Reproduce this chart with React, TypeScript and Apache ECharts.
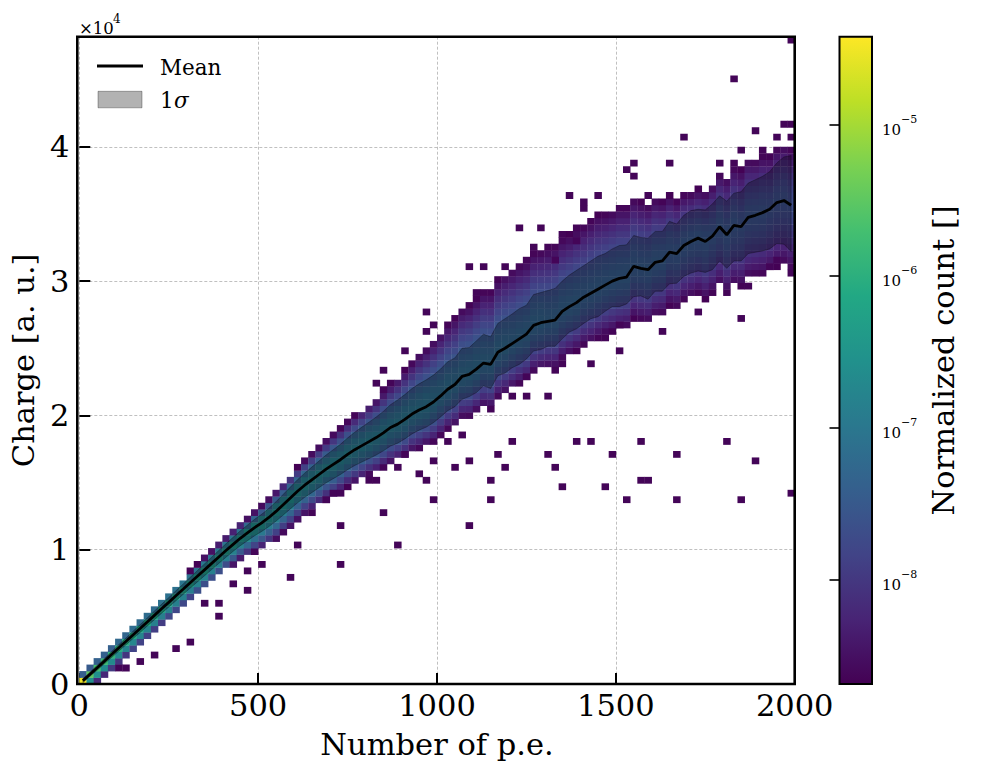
import React, { useEffect, useRef } from "react";
import * as echarts from "echarts";

const FONT = "'DejaVu Serif', serif";
const X_BIN = 20;
const N_X = 100;
const N_Y = 100;
const Y_MAX = 48200;
const Y_BIN = 482;
const LOG_MIN = -8.69;
const LOG_MAX = -4.4225;

const X_TICK_STEP = 500;
const Y_TICK_STEP = 10000;
const CBAR_DECADES = [-8, -7, -6, -5];

// mean charge per 20 p.e. column (column centres 10, 30, ..., 1990)
const MEAN = [
  250, 730, 1210, 1700, 2190, 2680, 3160, 3650, 4130, 4620,
  5110, 5600, 6080, 6570, 7050, 7540, 8020, 8500, 8980, 9460,
  9940, 10400, 10850, 11250, 11650, 12000, 12400, 12850, 13350, 13850,
  14350, 14800, 15200, 15600, 16000, 16350, 16700, 17100, 17450, 17750,
  18050, 18350, 18700, 19100, 19350, 19700, 20100, 20400, 20650, 21000,
  21450, 21950, 22300, 22900, 23050, 23450, 23900, 23800, 24700, 25000,
  25350, 25700, 26050, 26700, 26900, 27000, 27100, 27750, 28100, 28400,
  28800, 29100, 29400, 29700, 30000, 30200, 30300, 31100, 30950, 30850,
  31400, 31500, 32150, 32050, 32650, 32950, 33200, 32950, 33350, 34050,
  33450, 34150, 34050, 34750, 34900, 35100, 35350, 35850, 36000, 35650,
];

// 1 sigma band: distance above / below the mean
const BAND_UP = [
  150, 160, 180, 200, 220, 240, 250, 270, 290, 300,
  320, 330, 350, 370, 380, 400, 420, 440, 460, 480,
  500, 520, 550, 580, 610, 640, 680, 720, 770, 810,
  860, 900, 950, 1000, 1050, 1100, 1150, 1220, 1300, 1380,
  1450, 1530, 1600, 1700, 1800, 1850, 1900, 1950, 2000, 2000,
  2000, 2050, 1980, 2100, 2000, 2100, 2150, 2050, 2150, 2200,
  2200, 2250, 2150, 2300, 2250, 2300, 2350, 2250, 2350, 2400,
  2350, 2400, 2450, 2350, 2400, 2450, 2400, 2300, 2300, 2350,
  2300, 2200, 2300, 2200, 2250, 2300, 2150, 2350, 2400, 2300,
  2500, 2400, 2600, 2550, 2650, 2700, 2800, 2950, 3250, 3700,
];
const BAND_DN = [
  150, 160, 180, 200, 220, 240, 250, 270, 290, 300,
  320, 330, 350, 370, 380, 400, 420, 440, 460, 480,
  500, 520, 550, 580, 610, 640, 680, 720, 770, 810,
  860, 900, 950, 980, 1020, 1060, 1100, 1140, 1180, 1220,
  1260, 1300, 1340, 1380, 1420, 1450, 1480, 1500, 1520, 1540,
  1560, 1600, 1650, 1700, 1650, 1750, 1700, 1800, 1750, 1850,
  1800, 1900, 1850, 1900, 2000, 1850, 1950, 2050, 1900, 1950,
  1950, 1900, 2050, 1950, 1900, 2100, 2000, 2250, 2050, 2200,
  2150, 2250, 2350, 2200, 2300, 2350, 2450, 2300, 2500, 2550,
  2500, 2650, 2550, 2700, 2750, 2850, 2950, 3050, 3250, 3450,
];

// extent of the filled histogram region above / below the mean
const ENV_UP = [
  600, 650, 700, 700, 700, 750, 750, 800, 800, 800,
  800, 850, 850, 850, 900, 900, 900, 950, 950, 1000,
  1000, 1050, 1100, 1100, 1200, 1300, 1400, 1500, 1600, 1700,
  1800, 1900, 2000, 2100, 2200, 2300, 2400, 2500, 2600, 2700,
  2800, 2900, 3100, 3300, 3500, 3700, 3900, 4200, 4400, 4600,
  4800, 4900, 5000, 5100, 5200, 5300, 5400, 5500, 5500, 5600,
  5600, 5600, 5500, 5500, 5400, 5500, 5600, 5500, 5400, 5500,
  5400, 5500, 5600, 5400, 5300, 5400, 5300, 5100, 5000, 4900,
  4800, 4500, 4300, 4000, 3900, 3700, 3700, 3800, 3900, 4000,
  4300, 4400, 4300, 4400, 4200, 4300, 4000, 4100, 4200, 4300,
];
const ENV_DN = [
  900, 1000, 1100, 1100, 1200, 1200, 1200, 1300, 1300, 1300,
  1300, 1300, 1400, 1400, 1400, 1400, 1500, 1500, 1500, 1500,
  1500, 1600, 1600, 1700, 1800, 1900, 2000, 2100, 2100, 2200,
  2200, 2200, 2300, 2300, 2300, 2400, 2400, 2400, 2500, 2500,
  2500, 2600, 2600, 2700, 2700, 2800, 2800, 2900, 2900, 3000,
  3000, 3000, 3100, 3100, 3200, 3200, 3300, 3300, 3400, 3400,
  3400, 3400, 3500, 3500, 3500, 3500, 3600, 3600, 3600, 3600,
  3600, 3700, 3700, 3700, 3800, 3800, 3800, 3900, 3900, 3900,
  4000, 4000, 4000, 4100, 4100, 4200, 4200, 4300, 4300, 4400,
  4400, 4500, 4500, 4600, 4600, 4700, 4700, 4800, 4800, 4900,
];

// log10 of the normalized count at the core of each column
const PEAK = [
  -4.5, -5.5, -5.7, -5.8, -5.9, -6.0, -6.05, -6.1, -6.15, -6.15,
  -6.2, -6.2, -6.25, -6.25, -6.25, -6.3, -6.3, -6.3, -6.35, -6.35,
  -6.4, -6.4, -6.45, -6.45, -6.5, -6.5, -6.55, -6.55, -6.6, -6.6,
  -6.7, -6.7, -6.75, -6.75, -6.8, -6.8, -6.85, -6.85, -6.9, -6.9,
  -6.9, -6.95, -6.95, -7.0, -7.0, -7.0, -7.05, -7.05, -7.05, -7.1,
  -7.15, -7.15, -7.2, -7.2, -7.2, -7.2, -7.25, -7.25, -7.25, -7.25,
  -7.3, -7.3, -7.3, -7.3, -7.3, -7.35, -7.35, -7.35, -7.35, -7.35,
  -7.4, -7.4, -7.4, -7.4, -7.4, -7.4, -7.4, -7.45, -7.45, -7.45,
  -7.45, -7.45, -7.5, -7.5, -7.5, -7.5, -7.5, -7.5, -7.55, -7.55,
  -7.55, -7.55, -7.6, -7.6, -7.6, -7.6, -7.65, -7.65, -7.65, -7.7,
];

// isolated single-count cells [x bin, y bin]
const OUTLIERS = [
  [25, 18], [23, 17], [21, 15], [23, 14], [17, 12], [19, 12], [19, 10], [15, 6], [13, 5], [10, 4],
  [8, 3], [6, 2], [5, 2], [30, 21], [29, 16],
  [48, 57], [49, 55], [48, 54], [45, 51], [42, 48], [41, 46], [43, 46], [42, 45], [57, 42], [53, 38],
  [51, 37], [60, 37], [58, 35], [65, 35], [45, 35], [49, 34], [54, 34], [44, 33], [52, 33], [59, 33],
  [47, 32], [40, 31], [41, 31], [48, 31], [57, 31], [35, 29], [36, 29], [34, 28], [49, 28], [57, 28],
  [42, 26], [32, 26], [36, 24], [54, 24], [44, 21], [36, 18],
  [84, 84], [77, 80], [76, 79], [77, 78], [82, 80], [68, 75], [72, 75], [70, 74], [70, 73], [79, 75],
  [61, 70], [64, 70], [67, 69], [69, 70], [63, 67], [65, 67], [62, 65], [69, 68],
  [86, 57], [81, 54], [92, 56], [93, 61], [99, 63], [96, 64], [75, 51], [75, 55], [71, 49], [66, 48], [62, 47],
  [99, 99], [91, 93], [94, 85], [98, 86], [99, 86], [99, 84], [97, 84], [92, 82], [95, 82], [89, 80], [91, 80], [97, 65],
  [54, 64], [56, 64], [59, 64], [66, 65], [55, 60], [67, 49], [73, 53], [65, 44], [62, 44], [60, 44],
  [69, 37], [74, 35], [66, 33], [67, 30],
  [76, 28], [78, 31], [78, 37], [79, 31], [83, 35], [83, 28], [90, 37], [92, 28], [94, 34], [99, 29], [73, 30], [71, 37],
];

const VIRIDIS = [
  "#440154", "#482475", "#414487", "#355f8d", "#2a788e", "#21918c",
  "#22a884", "#44bf70", "#7ad151", "#bddf26", "#fde725",
];

function buildCells(): number[][] {
  const cells: number[][] = [];
  for (let i = 0; i < N_X; i++) {
    for (let j = 0; j < N_Y; j++) {
      const c = (j + 0.5) * Y_BIN;
      const d = c - MEAN[i];
      const e = d >= 0 ? ENV_UP[i] : ENV_DN[i];
      if (Math.abs(d) > e) continue;
      const f = 1 - Math.pow(Math.abs(d) / e, 1.5);
      cells.push([i * X_BIN, j * Y_BIN, LOG_MIN + (PEAK[i] - LOG_MIN) * f]);
    }
  }
  for (const [xb, yb] of OUTLIERS) cells.push([xb * X_BIN, yb * Y_BIN, LOG_MIN + 0.05]);
  return cells;
}

const CBAR_MINOR: number[] = [];
for (let n = -9; n <= -5; n++) {
  for (let k = 2; k <= 9; k++) {
    const v = n + Math.log10(k);
    if (v > LOG_MIN && v < LOG_MAX) CBAR_MINOR.push(v);
  }
}

const G = { left: 77.3, top: 36.7, width: 717.4, height: 647.3 };
const CB = { left: 839.5, top: 36.7, width: 32.5, height: 647.3 };

export default function App() {
  const ref = useRef<HTMLDivElement>(null);
  useEffect(() => {
    if (!ref.current) return;
    const chart = echarts.init(ref.current, undefined, { renderer: "svg" });
    const cells = buildCells();
    const centres = MEAN.map((_, i) => i * X_BIN + X_BIN / 2);
    const titleStyle = { color: "#000", fontFamily: FONT, fontSize: 30.5 };

    const option: any = {
      animation: false,
      grid: [
        { ...G, containLabel: false },
        { ...CB, containLabel: false },
      ],
      xAxis: [
        {
          type: "value", gridIndex: 0, min: 0, max: N_X * X_BIN, interval: X_TICK_STEP,
          axisLine: { show: false },
          axisTick: { inside: true, length: 11, lineStyle: { color: "#000", width: 2 } },
          axisLabel: {
            color: "#000", fontFamily: FONT, fontSize: 30.5, margin: 6,
            formatter: (v: number) => String(v),
          },
          splitLine: { show: true, lineStyle: { color: "#b0b0b0", width: 0.8, type: [3, 2] } },
          name: "Number of p.e.", nameLocation: "middle", nameGap: 45, nameTextStyle: titleStyle,
        },
        { type: "value", gridIndex: 1, min: 0, max: 1, show: false },
      ],
      yAxis: [
        {
          type: "value", gridIndex: 0, min: 0, max: Y_MAX, interval: Y_TICK_STEP,
          axisLine: { show: false },
          axisTick: { inside: true, length: 11, lineStyle: { color: "#000", width: 2 } },
          axisLabel: {
            color: "#000", fontFamily: FONT, fontSize: 30.5, margin: 10, showMaxLabel: false,
            formatter: (v: number) => (v % Y_TICK_STEP === 0 ? String(v / Y_TICK_STEP) : ""),
          },
          splitLine: { show: true, lineStyle: { color: "#b0b0b0", width: 0.8, type: [3, 2] } },
          name: "Charge [a. u.]", nameLocation: "middle", nameGap: 40, nameTextStyle: titleStyle,
        },
        {
          type: "value", gridIndex: 1, min: LOG_MIN, max: LOG_MAX, position: "right",
          axisLine: { show: false },
          axisTick: { inside: true, length: 10, customValues: CBAR_DECADES, lineStyle: { color: "#000", width: 1.6 } },
          axisLabel: {
            customValues: CBAR_DECADES, margin: 10, color: "#000", fontFamily: FONT, fontSize: 15,
            formatter: (v: number) => `{b|10}{s|\u2212${Math.round(-v)}}`,
            rich: {
              b: { fontFamily: FONT, fontSize: 15, color: "#000", padding: [11, 0, 0, 0] },
              s: { fontFamily: FONT, fontSize: 11, color: "#000", padding: [0, 0, 10, 0] },
            },
          },
          splitLine: { show: false },
          name: "Normalized count []", nameLocation: "middle", nameGap: 56, nameTextStyle: titleStyle,
        },
        {
          type: "value", gridIndex: 1, min: LOG_MIN, max: LOG_MAX, position: "right",
          axisLine: { show: false },
          axisTick: { inside: true, length: 5, customValues: CBAR_MINOR, lineStyle: { color: "#000", width: 1 } },
          axisLabel: { show: false },
          splitLine: { show: false },
        },
      ],
      visualMap: {
        type: "continuous", show: false, seriesIndex: 0, dimension: 2,
        min: LOG_MIN, max: LOG_MAX, inRange: { color: VIRIDIS },
      },
      graphic: [
        {
          type: "rect", z: 1,
          shape: { x: CB.left, y: CB.top, width: CB.width, height: CB.height },
          style: {
            fill: new echarts.graphic.LinearGradient(0, 1, 0, 0,
              VIRIDIS.map((c, i) => ({ offset: i / (VIRIDIS.length - 1), color: c }))),
            stroke: "#000", lineWidth: 2,
          },
        },
        {
          type: "rect", z: 100, silent: true,
          shape: { x: G.left, y: G.top, width: G.width, height: G.height },
          style: { fill: "none", stroke: "#000", lineWidth: 2.6 },
        },
        {
          type: "text", z: 100, x: 79, y: 28,
          style: { text: "\u00d710", fontFamily: FONT, fontSize: 16.5, fill: "#000", verticalAlign: "middle" },
        },
        {
          type: "text", z: 100, x: 113, y: 19,
          style: { text: "4", fontFamily: FONT, fontSize: 12, fill: "#000", verticalAlign: "middle" },
        },
        {
          type: "line", z: 100,
          shape: { x1: 97, y1: 66, x2: 143, y2: 66 },
          style: { stroke: "#000", lineWidth: 2.8 },
        },
        {
          type: "text", z: 100, x: 160, y: 67.5,
          style: { text: "Mean", fontFamily: FONT, fontSize: 21.5, fill: "#000", verticalAlign: "middle" },
        },
        {
          type: "rect", z: 100,
          shape: { x: 98, y: 91.3, width: 44, height: 16.5 },
          style: { fill: "rgba(0,0,0,0.3)", stroke: "rgba(0,0,0,0.3)", lineWidth: 1 },
        },
        {
          type: "text", z: 100, x: 160, y: 100,
          style: { text: "1", fontFamily: FONT, fontSize: 21.5, fill: "#000", verticalAlign: "middle" },
        },
        {
          type: "text", z: 100, x: 174, y: 100,
          style: { text: "\u03c3", fontFamily: FONT, fontSize: 21.5, fontStyle: "italic", fill: "#000", verticalAlign: "middle" },
        },
      ],
      series: [
        {
          type: "custom", name: "hist", xAxisIndex: 0, yAxisIndex: 0, z: 2, clip: true,
          dimensions: ["x", "y", "v"], encode: { x: 0, y: 1 },
          data: cells,
          renderItem: (_p: any, api: any) => {
            const x0 = api.value(0) as number;
            const y0 = api.value(1) as number;
            const a = api.coord([x0, y0 + Y_BIN]);
            const b = api.coord([x0 + X_BIN, y0]);
            return {
              type: "rect",
              shape: { x: a[0], y: a[1], width: b[0] - a[0] + 0.35, height: b[1] - a[1] + 0.35 },
              style: { fill: api.visual("color") },
            };
          },
        },
        {
          type: "custom", name: "1sigma", xAxisIndex: 0, yAxisIndex: 0, z: 3, silent: true,
          data: [[centres[0], MEAN[0]]], encode: { x: 0, y: 1 },
          renderItem: (_p: any, api: any) => {
            const upper = centres.map((x, i) => api.coord([x, MEAN[i] + BAND_UP[i]]));
            const lower = centres.map((x, i) => api.coord([x, MEAN[i] - BAND_DN[i]])).reverse();
            return {
              type: "polygon",
              shape: { points: upper.concat(lower) },
              style: { fill: "rgba(0,0,0,0.3)", stroke: "rgba(0,0,0,0.3)", lineWidth: 1 },
            };
          },
        },
        {
          type: "line", name: "Mean", xAxisIndex: 0, yAxisIndex: 0, z: 4,
          symbol: "none", silent: true,
          lineStyle: { color: "#000", width: 2.8 },
          data: centres.map((x, i) => [x, MEAN[i]]),
        },
      ],
    };
    chart.setOption(option);
    return () => chart.dispose();
  }, []);
  return (
    <div
      ref={ref}
      style={{ position: "absolute", left: 0, top: 0, width: 985, height: 771, background: "#fff" }}
    />
  );
}
